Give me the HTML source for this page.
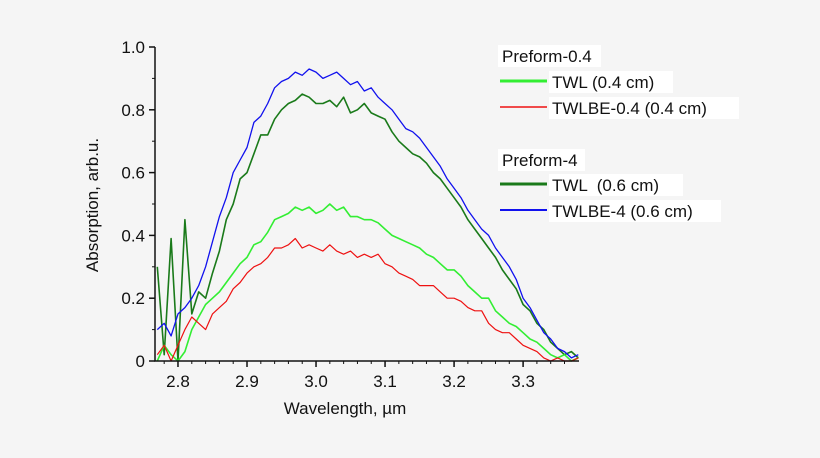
<!DOCTYPE html>
<html><head><meta charset="utf-8"><style>
body{margin:0;background:#f5f5f5;}
svg{display:block;font-family:"Liberation Sans",Arial,sans-serif;}
</style></head><body>
<svg id="c" width="820" height="458" viewBox="0 0 820 458">
<rect width="820" height="458" fill="#f5f5f5"/>
<g id="plot"></g>
<g id="axes"></g>
<g font-size="17" fill="#111">
<rect x="498" y="45" width="103" height="22" fill="#fff"/>
<text x="502" y="62">Preform-0.4</text>
<rect x="549" y="71" width="124" height="22" fill="#fff"/>
<line x1="500" y1="81" x2="547" y2="81" stroke="#33ee33" stroke-width="3"/>
<text x="552" y="88">TWL (0.4 cm)</text>
<rect x="549" y="97" width="190" height="22" fill="#fff"/>
<line x1="500" y1="107" x2="547" y2="107" stroke="#ee1111" stroke-width="1.5"/>
<text x="552" y="114">TWLBE-0.4 (0.4 cm)</text>
<rect x="498" y="149" width="87" height="22" fill="#fff"/>
<text x="502" y="166">Preform-4</text>
<rect x="549" y="174" width="134" height="22" fill="#fff"/>
<line x1="500" y1="184" x2="547" y2="184" stroke="#1a7a1a" stroke-width="3"/>
<text x="552" y="191" xml:space="preserve">TWL  (0.6 cm)</text>
<rect x="549" y="200" width="172" height="22" fill="#fff"/>
<line x1="500" y1="210" x2="547" y2="210" stroke="#1111ee" stroke-width="2"/>
<text x="552" y="217">TWLBE-4 (0.6 cm)</text>
</g>
</svg>
<script>
const wavelengths=[];for(let i=0;i<=61;i++)wavelengths.push(+(2.77+i*0.01).toFixed(2));
const blueVals=[0.1,0.12,0.08,0.15,0.17,0.2,0.24,0.3,0.38,0.46,0.52,0.6,0.64,0.68,0.76,0.78,0.82,0.87,0.89,0.9,0.92,0.91,0.93,0.92,0.9,0.91,0.92,0.9,0.88,0.89,0.86,0.87,0.84,0.82,0.8,0.77,0.74,0.73,0.71,0.68,0.65,0.62,0.58,0.55,0.52,0.48,0.45,0.42,0.4,0.36,0.33,0.3,0.26,0.2,0.17,0.13,0.09,0.07,0.04,0.03,0.01,0.02];
const darkGreenVals=[0.3,0.02,0.39,0.0,0.45,0.15,0.22,0.2,0.28,0.35,0.45,0.5,0.58,0.6,0.66,0.72,0.72,0.77,0.8,0.82,0.83,0.85,0.84,0.82,0.82,0.83,0.81,0.84,0.79,0.8,0.82,0.79,0.78,0.77,0.73,0.7,0.68,0.66,0.65,0.63,0.6,0.58,0.55,0.52,0.49,0.45,0.42,0.39,0.36,0.33,0.29,0.26,0.23,0.18,0.16,0.12,0.1,0.06,0.04,0.02,0.03,0.01];
const lightGreenVals=[0.0,0.05,0.02,0.0,0.03,0.1,0.14,0.18,0.2,0.22,0.25,0.28,0.31,0.33,0.37,0.38,0.41,0.45,0.46,0.47,0.49,0.48,0.49,0.47,0.48,0.5,0.48,0.49,0.46,0.46,0.45,0.45,0.44,0.42,0.4,0.39,0.38,0.37,0.36,0.34,0.33,0.31,0.29,0.29,0.27,0.24,0.22,0.2,0.2,0.16,0.14,0.12,0.11,0.09,0.07,0.06,0.04,0.02,0.01,0.02,0.0,0.01];
const redVals=[0.02,0.05,0.0,0.05,0.1,0.14,0.12,0.1,0.15,0.17,0.19,0.23,0.25,0.28,0.3,0.31,0.33,0.36,0.36,0.37,0.39,0.36,0.37,0.36,0.35,0.37,0.35,0.34,0.35,0.33,0.34,0.33,0.34,0.31,0.3,0.28,0.27,0.26,0.24,0.24,0.24,0.22,0.2,0.2,0.19,0.17,0.16,0.16,0.12,0.1,0.09,0.09,0.07,0.05,0.04,0.03,0.01,0.0,0.01,0.0,0.0,0.01];
const xTickLabels=["2.8","2.9","3.0","3.1","3.2","3.3"];
const yTickLabels=["0","0.2","0.4","0.6","0.8","1.0"];

const NS="http://www.w3.org/2000/svg";
const X0=155,X1=579,Y0=361,Y1=47,XMIN=2.7667,XMAX=3.381;
const xs=v=>X0+(v-XMIN)/(XMAX-XMIN)*(X1-X0);
const ys=v=>Y0-v*(Y0-Y1);
function mk(t,a,p){const e=document.createElementNS(NS,t);for(const k in a)e.setAttribute(k,a[k]);p.appendChild(e);return e;}
const plot=document.getElementById('plot'),axes=document.getElementById('axes');
const series=[[darkGreenVals,"#1a7a1a",1.6,"series-twl-0.6"],[blueVals,"#1111ee",1.3,"series-twlbe-4"],[lightGreenVals,"#33ee33",1.6,"series-twl-0.4"],[redVals,"#ee1111",1.2,"series-twlbe-0.4"]];
series.forEach(s=>{
  const pts=s[0].map((v,i)=>xs(wavelengths[i]).toFixed(1)+","+ys(v).toFixed(1)).join(" ");
  const pl=mk('polyline',{points:pts,fill:'none',stroke:s[1],'stroke-width':s[2],'stroke-linejoin':'round'},plot);
  
  
});
const ax=mk('path',{d:`M${X0},${Y1}V${Y0}H${X1}`,stroke:'#111',fill:'none','stroke-width':1.5},axes);


for(let v=2.78;v<=3.38;v+=0.02){const x=xs(v);mk('line',{x1:x,x2:x,y1:Y0,y2:Y0+3,stroke:'#111'},axes);}
xTickLabels.forEach(l=>{const x=xs(+l);mk('line',{x1:x,x2:x,y1:Y0,y2:Y0+6,stroke:'#111','stroke-width':1.5},axes);
  const t=mk('text',{x:x,y:Y0+26,'text-anchor':'middle','font-size':17,fill:'#111'},axes);t.textContent=l;
  
  });
for(let v=0.1;v<1;v+=0.2){const y=ys(v);mk('line',{x1:X0,x2:X0-3,y1:y,y2:y,stroke:'#111'},axes);}
yTickLabels.forEach(l=>{const y=ys(+l);mk('line',{x1:X0,x2:X0-6,y1:y,y2:y,stroke:'#111','stroke-width':1.5},axes);
  const t=mk('text',{x:X0-10,y:y+6,'text-anchor':'end','font-size':17,fill:'#111'},axes);t.textContent=l;
  
  });
const xt=mk('text',{x:345,y:414,'text-anchor':'middle','font-size':17,fill:'#111'},axes);xt.textContent="Wavelength, µm";


const yt=mk('text',{x:0,y:0,'text-anchor':'middle','font-size':17,fill:'#111',transform:'translate(98,205) rotate(-90)'},axes);yt.textContent="Absorption, arb.u.";


</script>
</body></html>
